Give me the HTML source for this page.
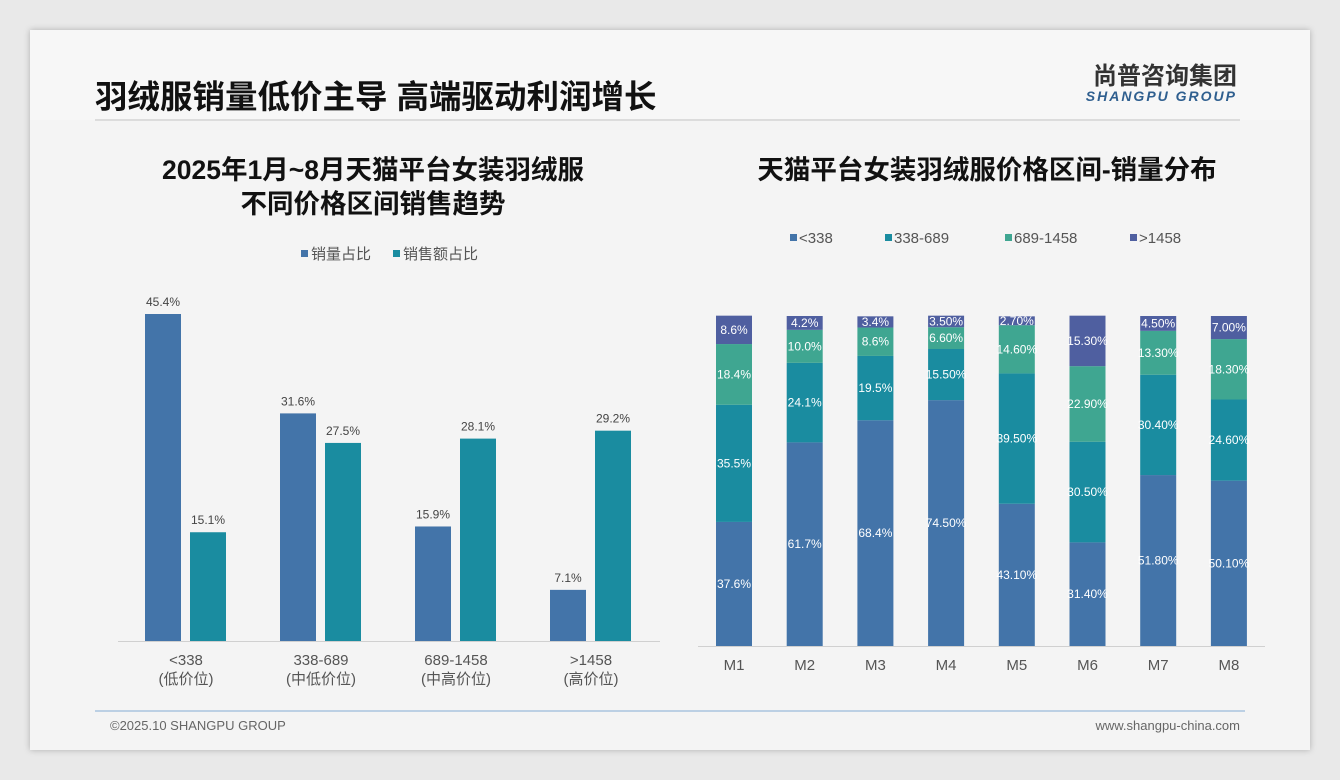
<!DOCTYPE html>
<html><head><meta charset="utf-8"><style>
body{margin:0;width:1340px;height:780px;background:#e9e9e9;font-family:"Liberation Sans","Noto Sans CJK SC",sans-serif;overflow:hidden}
#card{position:absolute;left:30px;top:30px;width:1280px;height:720px;background:#f4f4f4;box-shadow:0 0 6px rgba(0,0,0,.25)}
</style></head><body>
<div id="card"></div>
<svg id="svg" width="1340" height="780" style="position:absolute;left:0;top:0" font-family="Liberation Sans, Noto Sans CJK SC, sans-serif">
<rect x="30" y="30" width="1280" height="90" fill="#f7f7f7"/>
<line x1="95" y1="120" x2="1240" y2="120" stroke="#dcdcdc" stroke-width="2"/>
<text x="95" y="108" font-size="32.5" font-weight="bold" fill="#111">羽绒服销量低价主导 高端驱动利润增长</text>
<text x="1237" y="84" font-size="24" font-weight="bold" fill="#333" text-anchor="end">尚普咨询集团</text>
<text x="1237" y="101" font-size="14" font-weight="bold" font-style="italic" fill="#2f5f8f" text-anchor="end" letter-spacing="2">SHANGPU GROUP</text>
<text x="373" y="179" font-size="26.5" font-weight="bold" fill="#111" text-anchor="middle">2025年1月~8月天猫平台女装羽绒服</text>
<text x="373" y="213" font-size="26.5" font-weight="bold" fill="#111" text-anchor="middle">不同价格区间销售趋势</text>
<text x="987" y="179" font-size="26.5" font-weight="bold" fill="#111" text-anchor="middle">天猫平台女装羽绒服价格区间-销量分布</text>
<g font-size="15" fill="#555">
<rect x="301" y="250" width="7" height="7" fill="#4374a9"/><text x="311" y="259">销量占比</text>
<rect x="393" y="250" width="7" height="7" fill="#1a8ca0"/><text x="403" y="259">销售额占比</text>
</g>
<g id="left"></g>
<g id="right"></g>
<line x1="95" y1="711" x2="1245" y2="711" stroke="#a9c4de" stroke-width="1.5"/>
<text x="110" y="730" font-size="13" fill="#666">©2025.10 SHANGPU GROUP</text>
<text x="1240" y="730" font-size="13" fill="#666" text-anchor="end">www.shangpu-china.com</text>
</svg>
<script>
const leftCats=["<338","338-689","689-1458",">1458"];
const leftSubs=["(低价位)","(中低价位)","(中高价位)","(高价位)"];
const volShare=[45.4,31.6,15.9,7.1];
const salesShare=[15.1,27.5,28.1,29.2];
const months=["M1","M2","M3","M4","M5","M6","M7","M8"];
const sLow=[37.6,61.7,68.4,74.5,43.1,31.4,51.8,50.1];
const sMid=[35.5,24.1,19.5,15.5,39.5,30.5,30.4,24.6];
const sHigh=[18.4,10.0,8.6,6.6,14.6,22.9,13.3,18.3];
const sTop=[8.6,4.2,3.4,3.5,2.7,15.3,4.5,7.0];
const rightSeries=["<338","338-689","689-1458",">1458"];
const rightLabels=[["37.6%","61.7%","68.4%","74.50%","43.10%","31.40%","51.80%","50.10%"],["35.5%","24.1%","19.5%","15.50%","39.50%","30.50%","30.40%","24.60%"],["18.4%","10.0%","8.6%","6.60%","14.60%","22.90%","13.30%","18.30%"],["8.6%","4.2%","3.4%","3.50%","2.70%","15.30%","4.50%","7.00%"]];
const NS="http://www.w3.org/2000/svg";
function mk(p,t,a,txt){const e=document.createElementNS(NS,t);for(const k in a)e.setAttribute(k,a[k]);if(txt!=null)e.textContent=txt;p.appendChild(e);return e;}
const L=document.getElementById('left');
const lBase=641,lScale=327/45.4;
const ly=v=>lBase-v*lScale;
const lx=i=>186+i*135;
mk(L,'line',{x1:118,y1:641.5,x2:660,y2:641.5,stroke:'#d0d0d0'});
leftCats.forEach((c,i)=>{
 let r=mk(L,'rect',{x:lx(i)-41,y:ly(volShare[i]),width:36,height:volShare[i]*lScale,fill:'#4374a9'});
 
 let t=mk(L,'text',{x:lx(i)-23,y:ly(volShare[i])-8,'font-size':12,fill:'#444','text-anchor':'middle'},volShare[i].toFixed(1)+'%');
 
 let r2=mk(L,'rect',{x:lx(i)+4,y:ly(salesShare[i]),width:36,height:salesShare[i]*lScale,fill:'#1a8ca0'});
 
 let t2=mk(L,'text',{x:lx(i)+22,y:ly(salesShare[i])-8,'font-size':12,fill:'#444','text-anchor':'middle'},salesShare[i].toFixed(1)+'%');
 
 let c1=mk(L,'text',{x:lx(i),y:665,'font-size':15,fill:'#555','text-anchor':'middle'},c);
 
 let c2=mk(L,'text',{x:lx(i),y:684,'font-size':15,fill:'#555','text-anchor':'middle'},leftSubs[i]);
 
});
const R=document.getElementById('right');
const rBase=646,rScale=330/100;
const rx=i=>734+i*70.7;
const cols=['#4374a9','#1a8ca0','#3fa691','#4f5fa0'];
const series=[sLow,sMid,sHigh,sTop];
const legX=[790,885,1005,1130];
rightSeries.forEach((s,k)=>{
 const lx0=legX[k];
 let r=mk(R,'rect',{x:lx0,y:234,width:7,height:7,fill:cols[k]});
 
 let t=mk(R,'text',{x:lx0+9,y:243,'font-size':15,fill:'#555'},s);
 
});
mk(R,'line',{x1:698,y1:646.5,x2:1265,y2:646.5,stroke:'#d0d0d0'});
months.forEach((m,i)=>{
 let acc=0;
 series.forEach((sv,k)=>{
  const v=sv[i],h=v*rScale,y=rBase-(acc+v)*rScale;
  let r=mk(R,'rect',{x:rx(i)-18,y:y,width:36,height:h,fill:cols[k]});
  
  let t=mk(R,'text',{x:rx(i),y:y+h/2+4,'font-size':12,fill:'#fff','text-anchor':'middle'},rightLabels[k][i]);
  
  acc+=v;
 });
 let t=mk(R,'text',{x:rx(i),y:670,'font-size':15,fill:'#555','text-anchor':'middle'},m);
 
});
</script>
</body></html>
